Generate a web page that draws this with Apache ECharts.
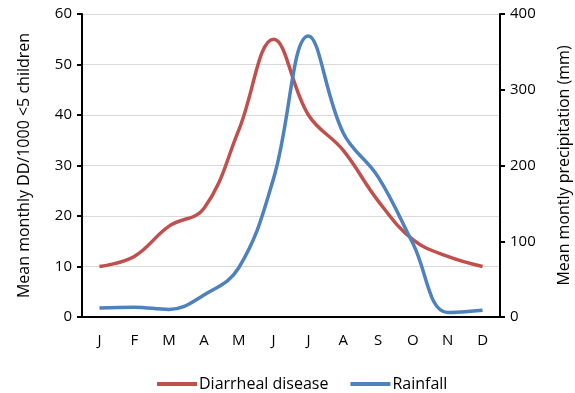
<!DOCTYPE html>
<html>
<head>
<meta charset="utf-8">
<script src="https://cdn.jsdelivr.net/npm/echarts@6/dist/echarts.min.js"></script>
<style>
  html, body { margin: 0; padding: 0; background: #fff; }
  #chart { width: 575px; height: 393px; }
</style>
</head>
<body>
<div id="chart"></div>
<script>
// Month initials along the x axis
const months = ['J', 'F', 'M', 'A', 'M', 'J', 'J', 'A', 'S', 'O', 'N', 'D'];
// Mean monthly diarrheal disease per 1000 children under 5 (left axis)
const diarrheal = [10, 12, 18, 21.5, 37, 55, 40, 33, 23, 15.3, 12, 10];
// Mean monthly precipitation in mm (right axis)
const rainfall = [12, 13, 10, 29, 65, 183, 371, 243, 185, 97, 6, 9];

const font = 'Open Sans, sans-serif';
const chart = echarts.init(document.getElementById('chart'));
chart.setOption({
  animation: false,
  grid: { left: 82, right: 75, top: 14, bottom: 76, outerBoundsMode: 'none', containLabel: false },
  legend: {
    top: 371,
    left: 152,
    itemGap: 22,
    itemWidth: 40,
    itemHeight: 4,
    icon: 'rect',
    textStyle: { fontFamily: font, fontSize: 16, color: '#000', padding: [0, 0, 0, -3] },
    data: ['Diarrheal disease', 'Rainfall']
  },
  xAxis: {
    type: 'category',
    data: months,
    boundaryGap: true,
    axisLine: { lineStyle: { color: '#000', width: 2 } },
    axisTick: { show: false },
    axisLabel: { fontFamily: font, fontSize: 15, color: '#000', margin: 16 }
  },
  yAxis: [
    {
      type: 'value',
      min: 0, max: 60, interval: 10,
      name: 'Mean monthly DD/1000 <5 children',
      nameLocation: 'middle',
      nameGap: 50,
      nameTextStyle: { fontFamily: font, fontSize: 16, color: '#000' },
      axisLine: { show: true, lineStyle: { color: '#000', width: 2 } },
      axisTick: { show: true, length: 5, lineStyle: { color: '#000', width: 2 } },
      axisLabel: { fontFamily: font, fontSize: 15, color: '#000', margin: 10 },
      splitLine: { show: true, lineStyle: { color: '#d9d9d9', width: 1 } }
    },
    {
      type: 'value',
      min: 0, max: 400, interval: 100,
      name: 'Mean montly precipitation (mm)',
      nameLocation: 'middle',
      nameGap: 56,
      nameTextStyle: { fontFamily: font, fontSize: 16, color: '#000' },
      axisLine: { show: true, lineStyle: { color: '#000', width: 2 } },
      axisTick: { show: true, length: 5, lineStyle: { color: '#000', width: 2 } },
      axisLabel: { fontFamily: font, fontSize: 15, color: '#000', margin: 10 },
      splitLine: { show: false }
    }
  ],
  series: [
    {
      name: 'Diarrheal disease',
      type: 'line',
      yAxisIndex: 0,
      data: diarrheal,
      smooth: 0.4,
      symbol: 'none',
      lineStyle: { color: '#C0504D', width: 3.5 },
      itemStyle: { color: '#C0504D' }
    },
    {
      name: 'Rainfall',
      type: 'line',
      yAxisIndex: 1,
      data: rainfall,
      smooth: 0.4,
      symbol: 'none',
      lineStyle: { color: '#4F81BD', width: 3.5 },
      itemStyle: { color: '#4F81BD' }
    }
  ]
});
</script>
</body>
</html>
